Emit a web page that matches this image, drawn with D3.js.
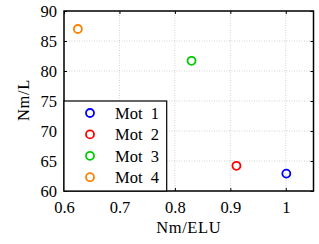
<!DOCTYPE html>
<html>
<head>
<meta charset="utf-8">
<script src="https://cdn.jsdelivr.net/npm/d3@7"></script>
<style>
  body { margin: 0; background: #fff; }
  text { font-family: "Liberation Serif", "DejaVu Serif", serif; }
</style>
</head>
<body>
<svg></svg>
<script>
var width = 319;
var height = 244;

var motors = ["Mot 1", "Mot 2", "Mot 3", "Mot 4"];
var nmPerElu = [1.001, 0.911, 0.83, 0.625];
var nmPerL = [62.9, 64.2, 81.7, 87];
var colors = ["#0000ff", "#ff0000", "#00cc00", "#ff8000"];
var xTicks = [0.6, 0.7, 0.8, 0.9, 1];
var yTicks = [60, 65, 70, 75, 80, 85, 90];

var padding = { top: 11, right: 5.5, bottom: 53, left: 64 };

var svg = d3.select("svg").attr("width", width).attr("height", height);

var xScale = d3.scaleLinear()
  .domain([0.6, 1.05])
  .range([padding.left, width - padding.right]);

var yScale = d3.scaleLinear()
  .domain([60, 90])
  .range([height - padding.bottom, padding.top]);

var x0 = xScale.range()[0], x1 = xScale.range()[1];
var y0 = yScale.range()[0], y1 = yScale.range()[1];

// grid
svg.append("g").selectAll("line.gx")
  .data(xTicks)
  .enter().append("line")
  .attr("x1", d => xScale(d)).attr("x2", d => xScale(d))
  .attr("y1", y0).attr("y2", y1)
  .attr("stroke", "#c8c8c8").attr("stroke-width", 0.8)
  .attr("stroke-dasharray", "1,1.5");

svg.append("g").selectAll("line.gy")
  .data(yTicks)
  .enter().append("line")
  .attr("x1", x0).attr("x2", x1)
  .attr("y1", d => yScale(d)).attr("y2", d => yScale(d))
  .attr("stroke", "#c8c8c8").attr("stroke-width", 0.8)
  .attr("stroke-dasharray", "1,1.5");

// axes with inward ticks
var fontSize = 16.5;
svg.append("g")
  .attr("transform", "translate(0," + y0 + ")")
  .call(d3.axisBottom(xScale).tickValues(xTicks).tickSize(-3).tickPadding(10).tickFormat(d3.format("")));
svg.append("g")
  .attr("transform", "translate(" + x0 + ",0)")
  .call(d3.axisLeft(yScale).tickValues(yTicks).tickSize(-3).tickPadding(7));
svg.append("g")
  .attr("transform", "translate(0," + y1 + ")")
  .call(d3.axisTop(xScale).tickValues(xTicks).tickSize(-3).tickFormat(""));
svg.append("g")
  .attr("transform", "translate(" + x1 + ",0)")
  .call(d3.axisRight(yScale).tickValues(yTicks).tickSize(-3).tickFormat(""));

svg.selectAll(".domain").remove();
svg.selectAll(".tick line").attr("stroke", "#000").attr("stroke-width", 1);
svg.selectAll(".tick text")
  .style("font-family", "'Liberation Serif', serif")
  .style("font-size", fontSize + "px")
  .attr("fill", "#000");

// box
svg.append("rect")
  .attr("x", x0).attr("y", y1)
  .attr("width", x1 - x0).attr("height", y0 - y1)
  .attr("fill", "none").attr("stroke", "#000").attr("stroke-width", 1.5);

// axis labels
svg.append("text")
  .attr("x", (x0 + x1) / 2)
  .attr("y", 233)
  .attr("text-anchor", "middle")
  .style("font-size", fontSize + "px")
  .style("letter-spacing", "0.6px")
  .text("Nm/ELU");

svg.append("text")
  .attr("transform", "translate(29,100) rotate(-90)")
  .attr("text-anchor", "middle")
  .style("font-size", fontSize + "px")
  .style("letter-spacing", "0.6px")
  .text("Nm/L");

// points
svg.append("g").selectAll("circle")
  .data(motors)
  .enter().append("circle")
  .attr("cx", (d, i) => xScale(nmPerElu[i]))
  .attr("cy", (d, i) => yScale(nmPerL[i]))
  .attr("r", 4)
  .attr("fill", "none")
  .attr("stroke", (d, i) => colors[i])
  .attr("stroke-width", 1.8);

// legend
var legend = svg.append("g");
legend.append("rect")
  .attr("x", x0).attr("y", yScale(75))
  .attr("width", 102.7).attr("height", y0 - yScale(75))
  .attr("fill", "#fff").attr("stroke", "#000").attr("stroke-width", 1.2);

var rows = legend.selectAll("g.row")
  .data(motors)
  .enter().append("g")
  .attr("transform", (d, i) => "translate(0," + (113 + i * 21.4) + ")");
rows.append("circle")
  .attr("cx", 90).attr("cy", 0).attr("r", 4)
  .attr("fill", "none")
  .attr("stroke", (d, i) => colors[i])
  .attr("stroke-width", 1.8);
rows.append("text")
  .attr("x", 115).attr("y", 0)
  .attr("dy", "0.35em")
  .style("font-size", fontSize + "px")
  .style("word-spacing", "4px")
  .text(d => d);
</script>
</body>
</html>
